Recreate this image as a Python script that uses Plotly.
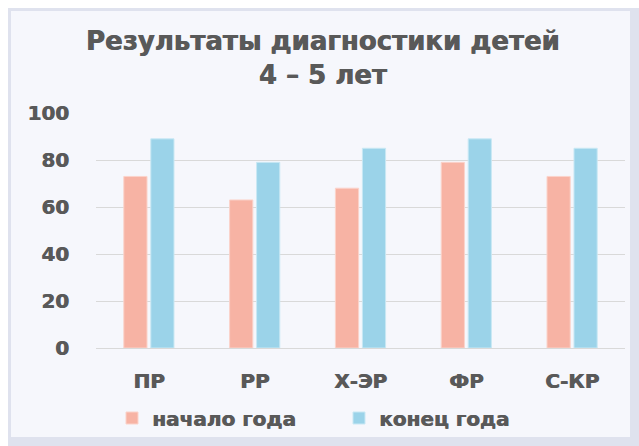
import plotly.graph_objects as go

categories = ["ПР", "РР", "Х-ЭР", "ФР", "С-КР"]
start_vals = [73, 63, 68, 79, 73]
end_vals = [89, 79, 85, 89, 85]
series_names = ["начало года", "конец года"]
y_ticks = [0, 20, 40, 60, 80, 100]
title_text = "Результаты диагностики детей<br>4 – 5 лет"

W, H = 639, 446
L, R, T, B = 96, 14, 113, 98
pw, ph = W - L - R, H - T - B

def px_x(x):
    return (x - L) / pw

def px_y(y):
    return (H - B - y) / ph

TXT = "#595959"
FONT = "DejaVu Sans"
SH = "0.7px 0px 0px #595959"

fig = go.Figure()
fig.add_trace(go.Bar(x=categories, y=start_vals, name=series_names[0],
                     marker=dict(color="#F7B3A4", line=dict(color="#FBD3CA", width=1))))
fig.add_trace(go.Bar(x=categories, y=end_vals, name=series_names[1],
                     marker=dict(color="#9BD3E9", line=dict(color="#C9E8F4", width=1))))

shapes = [
    dict(type="rect", xref="paper", yref="paper", layer="below",
         x0=px_x(8), x1=px_x(640), y0=px_y(447), y1=px_y(8),
         fillcolor="#dfe2ee", line=dict(width=0)),
    dict(type="rect", xref="paper", yref="paper", layer="below",
         x0=px_x(11), x1=px_x(630), y0=px_y(437), y1=px_y(11),
         fillcolor="#f6f7fc", line=dict(width=0)),
]

fig.update_layout(
    width=W, height=H,
    margin=dict(l=L, r=R, t=T, b=B, autoexpand=False),
    paper_bgcolor="#ffffff",
    plot_bgcolor="rgba(0,0,0,0)",
    barmode="group", bargap=0.49, bargroupgap=0.14,
    shapes=shapes,
    title=dict(text=title_text, x=0.505, xanchor="center", y=1 - 50 / H, yanchor="middle",
               xref="container", yref="container",
               font=dict(family=FONT, size=26, color=TXT, weight="bold", shadow=SH)),
    legend=dict(orientation="h", xref="container", yref="container",
                x=112 / W, xanchor="left", y=1 - 418 / H, yanchor="middle",
                font=dict(family=FONT, size=20, color=TXT, weight="bold", shadow=SH),
                bgcolor="rgba(0,0,0,0)", itemwidth=30, traceorder="normal",
                entrywidth=182, entrywidthmode="pixels"),
    xaxis=dict(showgrid=False, showline=True, linecolor="#d9d9d9", linewidth=1,
               automargin=False,
               ticks="outside", ticklen=15, tickcolor="rgba(0,0,0,0)",
               tickfont=dict(family=FONT, size=20, color=TXT, weight="bold", shadow=SH)),
    yaxis=dict(range=[0, 100], tickvals=y_ticks, showgrid=True, gridcolor="#d9d9d9",
               gridwidth=1, zeroline=False, showline=False, automargin=False,
               ticks="outside", ticklen=22, tickcolor="rgba(0,0,0,0)",
               tickfont=dict(family=FONT, size=20, color=TXT, weight="bold", shadow=SH)),
)

fig.write_html("out.html", config={"displayModeBar": False},
               post_script="document.body.style.margin='0';document.body.style.overflow='hidden';")
